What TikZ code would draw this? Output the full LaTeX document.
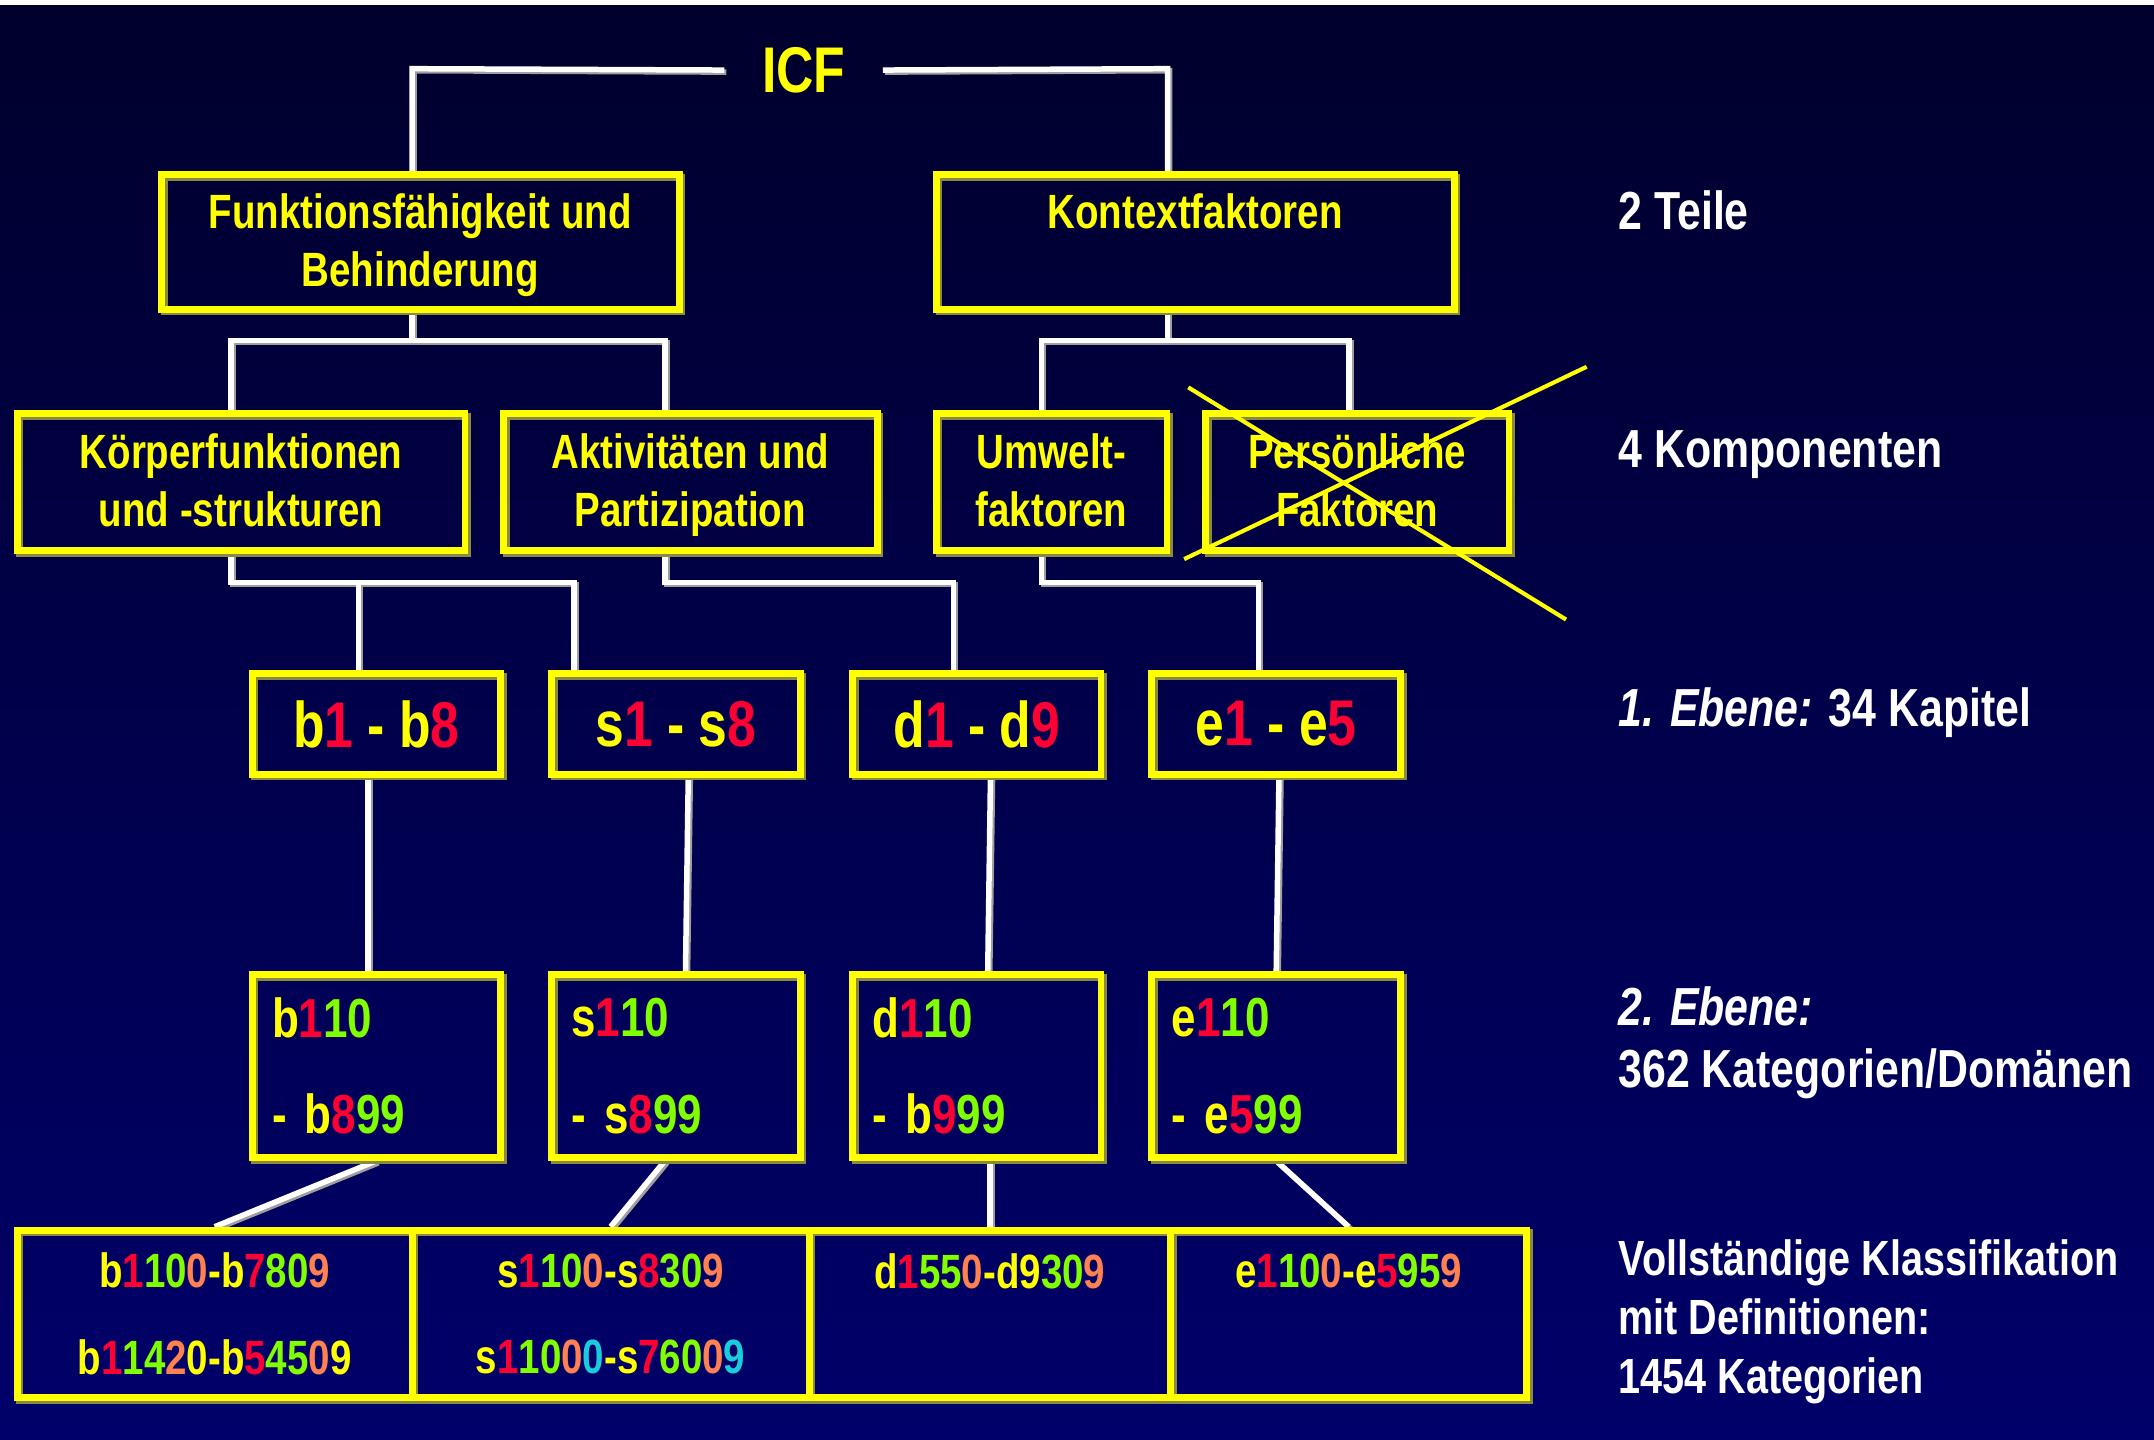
\documentclass[tikz,border=0pt]{standalone}
\usepackage{fontspec}
\setmainfont[FakeStretch=0.8]{Liberation Sans}
\usetikzlibrary{calc}
\definecolor{yel}{HTML}{FFFF00}
\definecolor{rd}{HTML}{FF0033}
\definecolor{gn}{HTML}{80FF00}
\definecolor{og}{HTML}{FF8050}
\definecolor{cy}{HTML}{19CCDD}
\definecolor{ysh}{HTML}{8A8A45}
\definecolor{bgtop}{HTML}{00002C}
\definecolor{bgbot}{HTML}{00006A}
\newcommand{\colR}[1]{\textcolor{rd}{#1}}
\newcommand{\colG}[1]{\textcolor{gn}{#1}}
\newcommand{\colO}[1]{\textcolor{og}{#1}}
\newcommand{\colC}[1]{\textcolor{cy}{#1}}
\newcommand{\hph}{\vphantom{Äg}}
\pgfdeclarelayer{back}
\pgfdeclarelayer{lines}
\pgfsetlayers{back,lines,main}
\tikzset{
  ybox/.style={draw=yel, line width=5pt, inner sep=0pt, align=center, text=yel,
    font=\bfseries\fontsize{35}{42}\selectfont,
    preaction={draw=ysh, line width=5pt, transform canvas={xshift=2pt,yshift=-2pt}}},
  chapbox/.style={ybox, minimum width=181pt, minimum height=73pt,
    font=\bfseries\fontsize{47}{56}\selectfont},
  catbox/.style={ybox, minimum width=181pt, minimum height=133pt, align=left,
    text width=152pt, inner xsep=14.5pt, font=\bfseries\fontsize{40}{70}\selectfont},
  fullbox/.style={ybox, minimum height=122pt, font=\bfseries\fontsize{35}{63}\selectfont},
  conn/.style={draw=white, line width=4pt,
    preaction={draw=gray!75, line width=4pt, transform canvas={xshift=1.5pt,yshift=-1.5pt}}},
  rlabel/.style={anchor=west, align=left, text=white, inner sep=0pt,
    font=\bfseries\fontsize{39}{45}\selectfont},
  cross/.style={draw=yel, line width=3pt}
}
\begin{document}
\begin{tikzpicture}[x=1pt,y=-1pt]
\useasboundingbox (0,0) rectangle (1568,1048);
\begin{pgfonlayer}{back}
  \shade[top color=bgtop, bottom color=bgbot] (0,0) rectangle (1568,1048);
  \fill[white] (0,0) rectangle (1568,4);
\end{pgfonlayer}

% title
\node[text=yel, font=\bfseries\fontsize{47}{56}\selectfont, minimum width=115pt, inner sep=0pt] (icf) at (585,51) {ICF};

% level 1
\node[ybox, minimum width=377pt, minimum height=98pt] (fb) at (306,176) {\hph Funktionsfähigkeit und\\Behinderung\hph};
\node[ybox, minimum width=377pt, minimum height=98pt] (kx) at (870,176) {\hph Kontextfaktoren\\\mbox{}\hph};

% level 2
\node[ybox, minimum width=326pt, minimum height=100pt] (kf) at (175.5,351) {\hph Körperfunktionen\\und -strukturen\hph};
\node[ybox, minimum width=272pt, minimum height=100pt] (ap) at (502.5,351) {\hph Aktivitäten und\\Partizipation\hph};
\node[ybox, minimum width=168pt, minimum height=100pt] (uf) at (765.5,351) {\hph Umwelt-\\faktoren\hph};
\node[ybox, minimum width=221pt, minimum height=100pt] (pf) at (988,351) {\hph Persönliche\\Faktoren\hph};
\draw[cross] (865,282) -- (1140,451);
\draw[cross] (1155,267) -- (862,407);

% level 3 chapters
\node[chapbox] (cb) at (274,527) {b\colR{1} - b\colR{8}};
\node[chapbox] (cs) at (492,527) {s\colR{1} - s\colR{8}};
\node[chapbox] (cd) at (711,527) {d\colR{1} - d\colR{9}};
\node[chapbox] (ce) at (929,527) {e\colR{1} - e\colR{5}};

% level 4 categories
\node[catbox] (gb) at (274,776) {b\colR{1}\colG{10}\\- b\colR{8}\colG{99}};
\node[catbox] (gs) at (492,776) {s\colR{1}\colG{10}\\- s\colR{8}\colG{99}};
\node[catbox] (gd) at (711,776) {d\colR{1}\colG{10}\\- b\colR{9}\colG{99}};
\node[catbox] (ge) at (929,776) {e\colR{1}\colG{10}\\- e\colR{5}\colG{99}};

% level 5 full classification
\node[fullbox, minimum width=287.5pt] (vb) at (156.25,956.5) {b\colR{1}\colG{10}\colO{0}-b\colR{7}\colG{80}\colO{9}\\b\colR{1}\colG{14}\colO{2}0-b\colR{5}\colG{45}\colO{0}9};
\node[fullbox, minimum width=289pt] (vs) at (444.5,956.5) {s\colR{1}\colG{10}\colO{0}-s\colR{8}\colG{30}\colO{9}\\s\colR{1}\colG{10}\colO{0}\colC{0}-s\colR{7}\colG{60}\colO{0}\colC{9}};
\node[fullbox, minimum width=263pt] (vd) at (720.5,956.5) {d\colR{1}\colG{55}\colO{0}-d9\colG{30}\colO{9}\\\mbox{}};
\node[fullbox, minimum width=259.5pt] (ve) at (981.75,956.5) {e\colR{1}\colG{10}\colO{0}-e\colR{5}\colG{95}\colO{9}\\\mbox{}};

% junction coordinates
\coordinate (tA) at (300,50);
\coordinate (tB) at (850,50);
\coordinate (jF) at (300,248);
\coordinate (jFl) at (168,248);
\coordinate (jFr) at (484,248);
\coordinate (jK) at (850,248);
\coordinate (jKl) at (758,248);
\coordinate (jKr) at (982,248);
\coordinate (jB) at (168,424);
\coordinate (jBa) at (261,424);
\coordinate (jBb) at (418,424);
\coordinate (jA) at (484,424);
\coordinate (jAa) at (694,424);
\coordinate (jU) at (758,424);
\coordinate (jUa) at (916,424);

\begin{pgfonlayer}{lines}
  \draw[conn] (icf.west) -- (tA) -- (tA |- fb.north);
  \draw[conn] (icf.east) -- (tB) -- (tB |- kx.north);
  \draw[conn] (jF |- fb.south) -- (jF);
  \draw[conn] (jFl |- kf.north) -- (jFl) -- (jFr) -- (jFr |- ap.north);
  \draw[conn] (jK |- kx.south) -- (jK);
  \draw[conn] (jKl |- uf.north) -- (jKl) -- (jKr) -- (jKr |- pf.north);
  \draw[conn] (jB |- kf.south) -- (jB) -- (jBb) -- (jBb |- cs.north);
  \draw[conn] (jBa) -- (jBa |- cb.north);
  \draw[conn] (jA |- ap.south) -- (jA) -- (jAa) -- (jAa |- cd.north);
  \draw[conn] (jU |- uf.south) -- (jU) -- (jUa) -- (jUa |- ce.north);
  \draw[conn] ([xshift=-6pt]cb.south) -- ([xshift=-6pt]gb.north);
  \draw[conn] ([xshift=9pt]cs.south) -- ([xshift=7pt]gs.north);
  \draw[conn] ([xshift=10pt]cd.south) -- ([xshift=8pt]gd.north);
  \draw[conn] ([xshift=2pt]ce.south) -- (ge.north);
  \draw[conn] (gb.south) -- (vb.north);
  \draw[conn] ([xshift=-8pt]gs.south) -- (vs.north);
  \draw[conn] (vd.north |- gd.south) -- (vd.north);
  \draw[conn] (ge.south) -- (ve.north);
\end{pgfonlayer}

% right-hand labels
\node[rlabel] (l1) at (1178,153) {2 Teile};
\node[rlabel] (l2) at (1178,331) {4 Komponenten};
\node[rlabel] (l3) at (1178,519) {{\itshape 1. Ebene:} 34 Kapitel};
\node[rlabel] (l4) at (1178,759) {{\itshape 2. Ebene:}\\362 Kategorien/Domänen};
\node[rlabel, font=\bfseries\fontsize{36}{43}\selectfont] (l5) at (1178,962) {Vollständige Klassifikation\\mit Definitionen:\\1454 Kategorien};
\end{tikzpicture}
\end{document}
